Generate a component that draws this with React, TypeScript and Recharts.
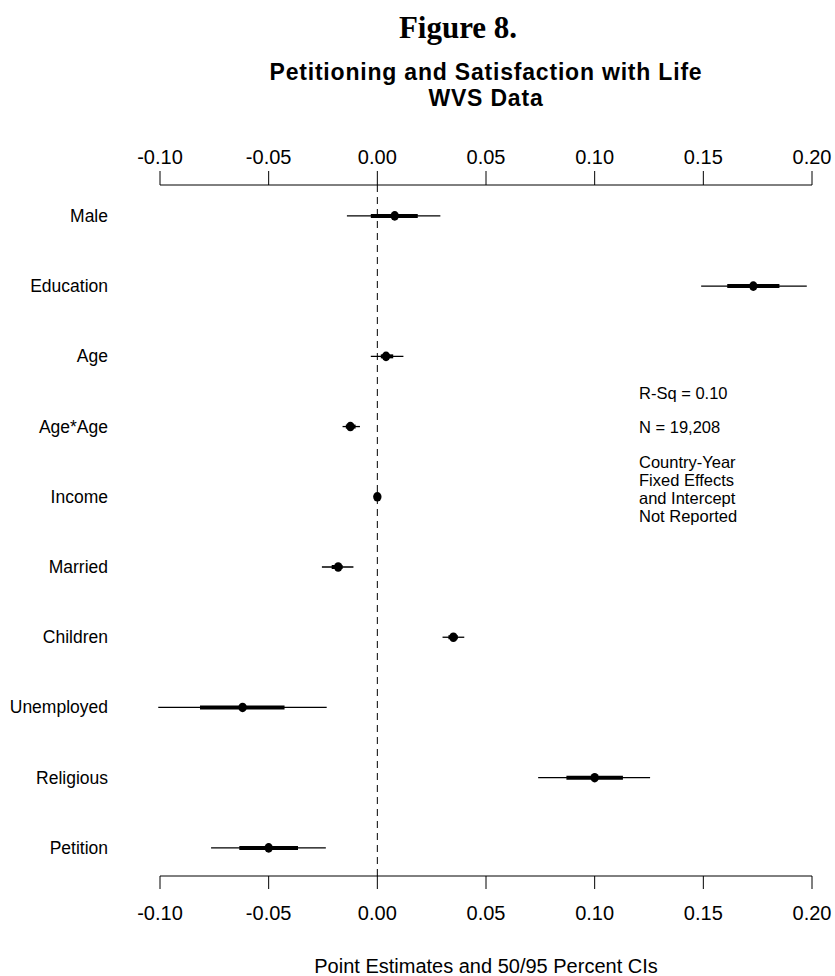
import { ScatterChart, Scatter, XAxis, YAxis, ErrorBar, ReferenceLine } from "recharts";

const labels = ["Male", "Education", "Age", "Age*Age", "Income", "Married", "Children", "Unemployed", "Religious", "Petition"];
const estimates = [0.008, 0.173, 0.004, -0.0124, 0.0, -0.018, 0.035, -0.062, 0.1, -0.05];
const lo50 = [-0.003, 0.161, 0.0016, -0.0145, -0.0006, -0.021, 0.0327, -0.0816, 0.087, -0.0635];
const hi50 = [0.0186, 0.185, 0.0073, -0.010, 0.0006, -0.016, 0.037, -0.0427, 0.113, -0.0365];
const lo95 = [-0.014, 0.149, -0.003, -0.016, -0.0012, -0.0255, 0.030, -0.1008, 0.074, -0.0765];
const hi95 = [0.029, 0.1976, 0.012, -0.008, 0.0012, -0.011, 0.040, -0.0233, 0.1255, -0.0237];
const xTicks = [-0.1, -0.05, 0, 0.05, 0.1, 0.15, 0.2];
const titleLines = ["Petitioning and Satisfaction with Life", "WVS Data"];
const notes = ["R-Sq = 0.10", "N = 19,208"];
const footnote = ["Country-Year", "Fixed Effects", "and Intercept", "Not Reported"];

const data = labels.map((name, i) => ({
  name,
  row: i + 1,
  est: estimates[i],
  e50: [estimates[i] - lo50[i], hi50[i] - estimates[i]],
  e95: [estimates[i] - lo95[i], hi95[i] - estimates[i]],
}));

const SANS = "'Liberation Sans', Arial, sans-serif";

const RowTick = ({ y, payload }: any) => (
  <text x={108} y={y} textAnchor="end" dominantBaseline="central" fontSize={17.5} fontFamily={SANS} fill="#000">
    {labels[payload.value - 1]}
  </text>
);

const Dot = ({ cx, cy }: any) => <ellipse cx={cx} cy={cy} rx={4.2} ry={4.8} fill="#000" />;

export default function App() {
  const axisProps = {
    type: "number" as const,
    dataKey: "est",
    domain: [-0.1, 0.2],
    allowDataOverflow: true,
    ticks: xTicks,
    interval: 0 as const,
    tickFormatter: (v: number) => v.toFixed(2),
    stroke: "#000",
    tick: { fill: "#000", fontSize: 20, fontFamily: SANS },
  };

  return (
    <div style={{ position: "absolute", left: 0, top: 0, width: 835, height: 976, background: "#fff" }}>
      <div style={{ position: "absolute", left: 0, width: 916, top: 8, textAlign: "center", fontFamily: "'Liberation Serif', 'Times New Roman', serif", fontWeight: "bold", fontSize: 31, lineHeight: "40px" }}>
        Figure 8.
      </div>
      {titleLines.map((t, i) => (
        <div
          key={t}
          style={{ position: "absolute", left: 0, width: 972, top: 59 + i * 26, height: 26, textAlign: "center", fontFamily: SANS, fontWeight: "bold", fontSize: 23, lineHeight: "26px", letterSpacing: 0.8 }}
        >
          {t}
        </div>
      ))}
      <ScatterChart width={835} height={976} margin={{ top: 145, right: 23, bottom: 50, left: 0 }}>
        <XAxis xAxisId="top" orientation="top" height={40} tickSize={14} tickMargin={7} {...axisProps} />
        <XAxis xAxisId="bottom" orientation="bottom" height={50} tickSize={13} tickMargin={17} {...axisProps} />
        <YAxis
          type="number"
          dataKey="row"
          domain={[0.56, 10.4]}
          reversed
          allowDataOverflow
          ticks={data.map((d) => d.row)}
          interval={0}
          width={160}
          axisLine={false}
          tickLine={false}
          tick={<RowTick />}
        />
        <ReferenceLine xAxisId="top" x={0} stroke="#000" strokeWidth={1} strokeDasharray="7 5" />
        <Scatter xAxisId="top" data={data} shape={<Dot />} isAnimationActive={false}>
          <ErrorBar dataKey="e95" direction="x" width={0} stroke="#000" strokeWidth={1.3} isAnimationActive={false} />
          <ErrorBar dataKey="e50" direction="x" width={0} stroke="#000" strokeWidth={4} isAnimationActive={false} />
        </Scatter>
      </ScatterChart>
      <div style={{ position: "absolute", left: 639, top: 384, fontFamily: SANS, fontSize: 16.5, lineHeight: "18px" }}>
        <div>{notes[0]}</div>
        <div style={{ marginTop: 16 }}>{notes[1]}</div>
        <div style={{ marginTop: 17 }}>
          {footnote.map((t) => (
            <div key={t}>{t}</div>
          ))}
        </div>
      </div>
      <div style={{ position: "absolute", left: 0, width: 972, top: 954, textAlign: "center", fontFamily: SANS, fontSize: 20, lineHeight: "24px" }}>
        Point Estimates and 50/95 Percent CIs
      </div>
    </div>
  );
}
